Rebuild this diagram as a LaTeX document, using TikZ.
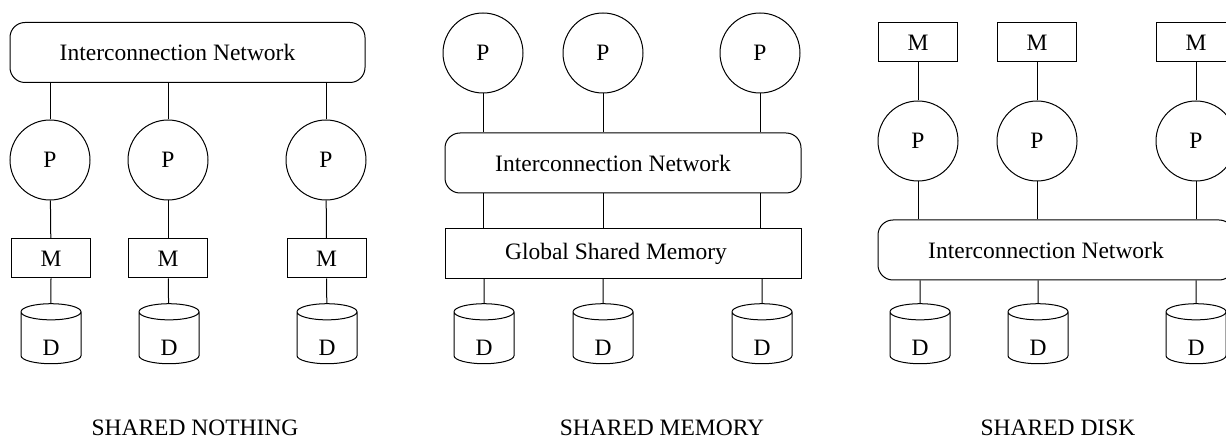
\documentclass[tikz,border=0pt]{standalone}
\usepackage{fontspec}
\setmainfont{Liberation Serif}
\usetikzlibrary{shapes.geometric}

\newcommand{\disklabel}{\raisebox{-4.5pt}[8pt][0pt]{D}}

\tikzset{
  netbox/.style={draw, rounded corners=7.5pt, minimum width=178pt, minimum height=30pt, inner sep=0pt},
  membox/.style={draw, minimum width=39.5pt, minimum height=19.5pt, inner sep=0pt},
  proc/.style={draw, circle, minimum size=40pt, inner sep=0pt},
  disk/.style={draw, cylinder, shape border rotate=90, aspect=0.95,
    minimum width=30pt, minimum height=30pt, inner sep=0pt},
  caption/.style={inner sep=0pt}
}

\begin{document}
\begin{tikzpicture}[x=0.5pt, y=-0.5pt, line width=0.5pt,
    every node/.style={font=\fontsize{11.75}{14}\selectfont}]
  \useasboundingbox (0,0) rectangle (1226,438);

  % shared nothing
  \node[netbox, minimum width=177.5pt] (snNet) at (187.5,52.5) {Interconnection Network\kern10pt};
  \node[proc] (snP1) at (50,160) {P};
  \node[proc] (snP2) at (168,160) {P};
  \node[proc] (snP3) at (326,160) {P};
  \node[membox] (snM1) at (51,258.5) {M};
  \node[membox] (snM2) at (168,258.5) {M};
  \node[membox] (snM3) at (326.5,258.5) {M};
  \node[disk] (snD1) at (51,338) {\disklabel};
  \node[disk] (snD2) at (169,338) {\disklabel};
  \node[disk] (snD3) at (327,338) {\disklabel};
  \draw (snP1.north) -- (snP1.north |- snNet.south);
  \draw (snP2.north) -- (snP2.north |- snNet.south);
  \draw (snP3.north) -- (snP3.north |- snNet.south);
  \draw (snP1) -- (snM1);
  \draw (snP2) -- (snM2);
  \draw (snP3) -- (snM3);
  \draw (snM1) -- (snD1);
  \draw (snM2) -- (snD2);
  \draw (snM3) -- (snD3);
  \node[caption] (snCap) at (195,428) {SHARED NOTHING};

  % shared memory
  \node[proc] (smP1) at (483,53) {P};
  \node[proc] (smP2) at (603,53) {P};
  \node[proc] (smP3) at (760,53) {P};
  \node[netbox] (smNet) at (623,163) {Interconnection Network\kern10pt};
  \node[membox, minimum width=178pt, minimum height=25pt] (smMem) at (623,253.5) {Global Shared Memory\kern7pt};
  \node[disk] (smD1) at (484,338) {\disklabel};
  \node[disk] (smD2) at (603,338) {\disklabel};
  \node[disk] (smD3) at (762,338) {\disklabel};
  \draw (smP1) -- (smP1 |- smNet.north);
  \draw (smP2) -- (smP2 |- smNet.north);
  \draw (smP3) -- (smP3 |- smNet.north);
  \draw (smP1 |- smNet.south) -- (smP1 |- smMem.north);
  \draw (smP2 |- smNet.south) -- (smP2 |- smMem.north);
  \draw (smP3 |- smNet.south) -- (smP3 |- smMem.north);
  \draw (smD1 |- smMem.south) -- (smD1);
  \draw (smD2 |- smMem.south) -- (smD2);
  \draw (smD3 |- smMem.south) -- (smD3);
  \node[caption] (smCap) at (662,428) {SHARED MEMORY};

  % shared disk
  \node[membox] (sdM1) at (918,42.5) {M};
  \node[membox] (sdM2) at (1037,42.5) {M};
  \node[membox] (sdM3) at (1196,42.5) {M};
  \node[proc] (sdP1) at (918,141) {P};
  \node[proc] (sdP2) at (1037,141) {P};
  \node[proc] (sdP3) at (1196,141) {P};
  \node[netbox] (sdNet) at (1056,250) {Interconnection Network\kern10pt};
  \node[disk] (sdD1) at (920,338) {\disklabel};
  \node[disk] (sdD2) at (1038,338) {\disklabel};
  \node[disk] (sdD3) at (1196,338) {\disklabel};
  \draw (sdM1) -- (sdP1);
  \draw (sdM2) -- (sdP2);
  \draw (sdM3) -- (sdP3);
  \draw (sdP1) -- (sdP1 |- sdNet.north);
  \draw (sdP2) -- (sdP2 |- sdNet.north);
  \draw (sdP3) -- (sdP3 |- sdNet.north);
  \draw (sdD1 |- sdNet.south) -- (sdD1);
  \draw (sdD2 |- sdNet.south) -- (sdD2);
  \draw (sdD3 |- sdNet.south) -- (sdD3);
  \node[caption] (sdCap) at (1058,428) {SHARED DISK};
\end{tikzpicture}
\end{document}
